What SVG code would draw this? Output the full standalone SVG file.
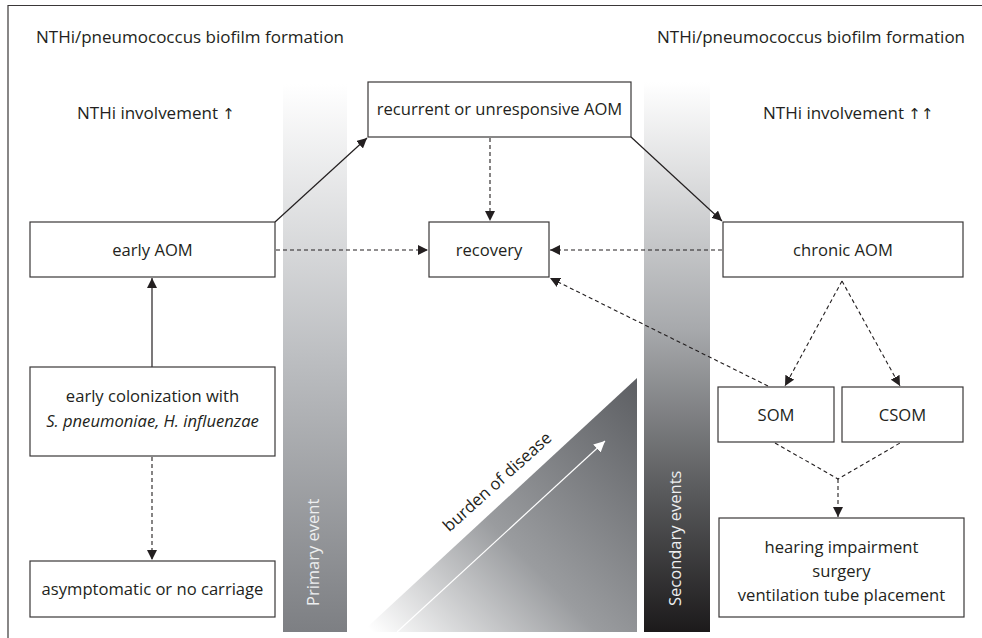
<svg xmlns="http://www.w3.org/2000/svg" width="982" height="638" viewBox="0 0 982 638">
<style>
.box{fill:#fff;stroke:#3a3738;stroke-width:1.2}
.t{font-family:"Open Sans","Noto Sans",sans-serif;font-size:16.6px;fill:#231f20;text-anchor:middle}
.h{font-family:"Open Sans","Noto Sans",sans-serif;font-size:17px;fill:#231f20}
.ar{font-family:"DejaVu Sans",sans-serif;font-size:15px}
.solid{fill:none;stroke:#231f20;stroke-width:1.2}
.dash{fill:none;stroke:#231f20;stroke-width:1.1;stroke-dasharray:4 3}
.vt{font-family:"Open Sans","Noto Sans",sans-serif;font-size:16.5px;fill:#eeeff0}
</style>
<defs>
<marker id="ah" viewBox="0 0 10 10" refX="10" refY="5" markerWidth="10" markerHeight="10" markerUnits="userSpaceOnUse" orient="auto">
<path d="M0,0 L10,5 L0,10 z" fill="#231f20"/>
</marker>
<marker id="ahw" viewBox="0 0 10 10" refX="10" refY="5" markerWidth="11" markerHeight="11" markerUnits="userSpaceOnUse" orient="auto">
<path d="M0,0 L10,5 L0,10 z" fill="#ffffff"/>
</marker>
<linearGradient id="gp" x1="0" y1="0" x2="0" y2="1">
<stop offset="0" stop-color="#ffffff"/>
<stop offset="0.5" stop-color="#bcbec1"/>
<stop offset="1" stop-color="#7d7f83"/>
</linearGradient>
<linearGradient id="gs" x1="0" y1="0" x2="0" y2="1">
<stop offset="0" stop-color="#ffffff"/>
<stop offset="0.45" stop-color="#a7a9ac"/>
<stop offset="0.75" stop-color="#58595b"/>
<stop offset="1" stop-color="#1c1a1b"/>
</linearGradient>
<linearGradient id="gt" gradientUnits="userSpaceOnUse" x1="380" y1="640" x2="637" y2="390">
<stop offset="0" stop-color="#ffffff"/>
<stop offset="0.45" stop-color="#9a9c9f"/>
<stop offset="1" stop-color="#5f6165"/>
</linearGradient>
</defs>
<rect width="982" height="638" fill="#fff"/>
<path d="M8,638 V5.5 H982" fill="none" stroke="#3a3738" stroke-width="1.2"/>
<g id="bands">
<rect x="283" y="84" width="64" height="548" fill="url(#gp)"/>
<rect x="644" y="82" width="66" height="550" fill="url(#gs)"/>
<path d="M362,632 L637,378 L637,632 z" fill="url(#gt)"/>
<text class="vt" transform="translate(319,606) rotate(-90)">Primary event</text>
<text class="vt" transform="translate(681,606) rotate(-90)">Secondary events</text>
<text class="t" transform="translate(501,486) rotate(-42)">burden of disease</text>
<line x1="397" y1="632" x2="605" y2="441" stroke="#fff" stroke-width="1.2" marker-end="url(#ahw)"/>
</g>
<g id="headers">
<text class="h" x="36" y="43">NTHi/pneumococcus biofilm formation</text>
<text class="h" x="657" y="43">NTHi/pneumococcus biofilm formation</text>
<text class="h" x="77" y="119">NTHi involvement <tspan class="ar">↑</tspan></text>
<text class="h" x="763" y="119">NTHi involvement <tspan class="ar">↑↑</tspan></text>
</g>
<g id="connectors">
<line class="solid" x1="275" y1="222" x2="367" y2="138" marker-end="url(#ah)"/>
<line class="solid" x1="631" y1="137" x2="722" y2="221" marker-end="url(#ah)"/>
<line class="dash" x1="490" y1="138" x2="490" y2="221" marker-end="url(#ah)"/>
<line class="dash" x1="276" y1="250" x2="428" y2="250" marker-end="url(#ah)"/>
<line class="dash" x1="722" y1="250" x2="550" y2="250" marker-end="url(#ah)"/>
<line class="dash" x1="768" y1="386" x2="550" y2="278" marker-end="url(#ah)"/>
<line class="solid" x1="152" y1="367" x2="152" y2="278" marker-end="url(#ah)"/>
<line class="dash" x1="152" y1="457" x2="152" y2="560" marker-end="url(#ah)"/>
<line class="dash" x1="842" y1="281" x2="785" y2="386" marker-end="url(#ah)"/>
<line class="dash" x1="842" y1="281" x2="900" y2="386" marker-end="url(#ah)"/>
<path class="dash" d="M775,443 L838,479 L900,443"/>
<line class="dash" x1="838" y1="479" x2="838" y2="517" marker-end="url(#ah)"/>
</g>
<g id="n-recurrent"><rect class="box" x="368" y="82" width="263" height="55"/><text class="t" x="499.5" y="115">recurrent or unresponsive AOM</text></g>
<g id="n-early-aom"><rect class="box" x="30" y="222" width="245" height="55"/><text class="t" x="152.5" y="256">early AOM</text></g>
<g id="n-recovery"><rect class="box" x="429" y="222" width="120" height="55"/><text class="t" x="489" y="256">recovery</text></g>
<g id="n-chronic"><rect class="box" x="723" y="222" width="240" height="55"/><text class="t" x="843" y="256">chronic AOM</text></g>
<g id="n-colonization"><rect class="box" x="30" y="367" width="245" height="89"/><text class="t" x="152.5" y="402">early colonization with</text><text class="t" x="152.5" y="427" font-style="italic">S. pneumoniae, H. influenzae</text></g>
<g id="n-asymptomatic"><rect class="box" x="30" y="561" width="245" height="56"/><text class="t" x="152.5" y="595">asymptomatic or no carriage</text></g>
<g id="n-som"><rect class="box" x="718" y="387" width="116" height="55"/><text class="t" x="776" y="421">SOM</text></g>
<g id="n-csom"><rect class="box" x="842" y="387" width="121" height="55"/><text class="t" x="902.5" y="421">CSOM</text></g>
<g id="n-hearing"><rect class="box" x="719" y="518" width="245" height="99"/><text class="t" x="841.5" y="553">hearing impairment</text><text class="t" x="841.5" y="577">surgery</text><text class="t" x="841.5" y="601">ventilation tube placement</text></g>
</svg>
